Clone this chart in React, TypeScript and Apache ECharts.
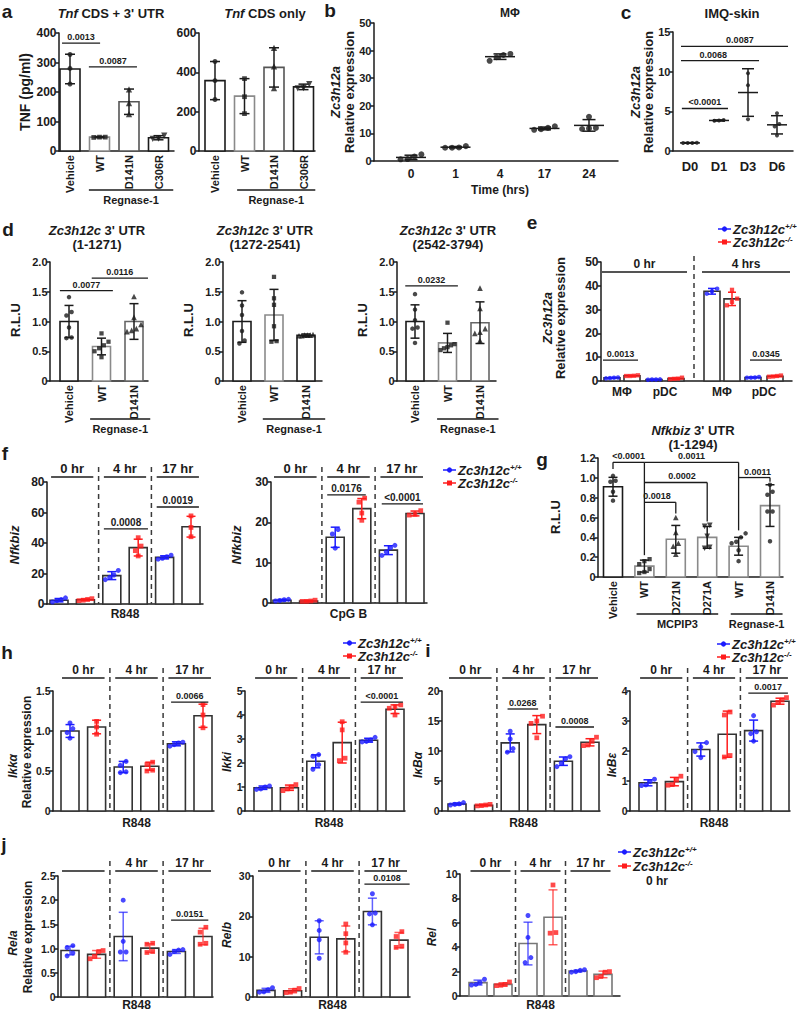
import React, { useEffect, useRef } from "react";
import * as echarts from "echarts";

const FF = "'Liberation Sans', Arial, Helvetica, sans-serif";
const INK = "#1b1b1b";
const GREY = "#8a8a8a";
const BLUE = "#1c1cff";
const RED = "#ff1c1c";
const INV = "path://M0,0L10,0L5,9Z";

// ---------- a ----------
const aCats = ["Vehicle", "WT", "D141N", "C306R"];
const a1Mean = [278, 47, 167, 45];
const a1Sd = [50, 2, 43, 7];
const a1Pts = [[327, 280, 227], [47, 46, 47], [209, 162, 125], [52, 42, 41]];
const a2Mean = [358, 279, 425, 326];
const a2Sd = [97, 89, 100, 14];
const a2Pts = [[455, 358, 262], [368, 276, 190], [525, 430, 320], [340, 320, 318]];
// ---------- b ----------
const bTimes = ["0", "1", "4", "17", "24"];
const bMean = [1.3, 5.0, 37.8, 11.8, 12.9];
const bSd = [0.8, 0.25, 1.0, 0.5, 2.1];
const bPts = [[1.6, 0.6, 0.7, 2.4], [4.8, 4.8, 4.9, 5.4], [38.4, 38.8, 36.3, 37.6], [12.0, 11.3, 11.5, 12.6], [16.0, 12.0, 11.6, 11.8]];
// ---------- c ----------
const cDays = ["D0", "D1", "D3", "D6"];
const cMean = [1.02, 3.85, 7.37, 3.3];
const cSd = [0.04, 0.07, 3.0, 1.15];
const cPts = [[1.02, 1.0, 1.02, 1.03], [3.9, 3.8, 3.85], [9.8, 8.3, 4.0], [4.75, 3.4, 3.1, 1.95]];
// ---------- d ----------
const dCats = ["Vehicle", "WT", "D141N"];
const d1Mean = [1.0, 0.58, 1.0];
const d1Sd = [0.27, 0.14, 0.3];
const d1Pts = [[1.41, 1.16, 1.1, 0.9, 0.73, 0.72], [0.8, 0.66, 0.6, 0.55, 0.5, 0.4], [1.42, 1.07, 0.95, 0.88, 0.85, 0.83]];
const d2Mean = [1.0, 1.11, 0.77];
const d2Sd = [0.35, 0.43, 0.02];
const d2Pts = [[1.49, 1.27, 1.11, 0.84, 0.68, 0.63], [1.75, 1.39, 1.28, 0.92, 0.67, 0.66], [0.78, 0.77, 0.77, 0.76, 0.77, 0.76]];
const d3Mean = [1.0, 0.64, 0.98];
const d3Sd = [0.28, 0.16, 0.35];
const d3Pts = [[1.46, 1.2, 1.02, 0.9, 0.88, 0.64], [0.98, 0.62, 0.6, 0.57, 0.55, 0.52], [1.56, 1.22, 0.88, 0.82, 0.8, 0.68]];
// ---------- e ----------
const eCells = ["MΦ", "pDC", "MΦ", "pDC"];
const eMean = [1.3, 2.2, 0.6, 1.0, 37.7, 34.5, 1.5, 2.0];
const eSd = [0.2, 0.15, 0.1, 0.25, 1.2, 2.8, 0.15, 0.2];
const ePts = [[1.5, 1.4, 1.2, 1.1], [2.4, 2.2, 2.1, 2.1], [0.7, 0.6, 0.5, 0.6], [1.4, 1.0, 0.8, 0.9], [38.8, 37.7, 36.7], [38.3, 34.6, 33.2, 31.8], [1.7, 1.5, 1.4, 1.4], [2.3, 2.1, 1.9, 1.8]];
// ---------- f ----------
const hrs = ["0 hr", "4 hr", "17 hr"];
const f1Mean = [2.5, 2.8, 18.6, 37.0, 30.6, 50.7];
const f1Sd = [1.1, 0.5, 2.6, 5.5, 1.0, 6.8];
const f1Pts = [[4.0, 2.9, 2.2, 1.3], [3.5, 3.0, 2.5, 2.2], [22.0, 19.0, 17.5, 16.0], [43.5, 38.0, 35.0, 31.5], [32.0, 31.0, 30.0, 29.4], [57.8, 50.2, 44.1]];
const f2Mean = [0.7, 0.5, 16.3, 23.4, 13.1, 22.2];
const f2Sd = [0.2, 0.15, 2.5, 2.5, 1.1, 0.6];
const f2Pts = [[0.9, 0.8, 0.6, 0.5], [0.7, 0.5, 0.4, 0.4], [18.2, 17.1, 13.6], [26.0, 25.0, 22.3, 20.5], [14.3, 13.7, 12.7, 11.8], [22.9, 22.0, 21.8]];
// ---------- g ----------
const gCats = ["Vehicle", "WT", "D271N", "D271A", "WT", "D141N"];
const gMean = [0.91, 0.11, 0.38, 0.4, 0.31, 0.72];
const gSd = [0.095, 0.06, 0.14, 0.11, 0.09, 0.21];
const gPts = [[1.02, 0.97, 0.96, 0.86, 0.77], [0.18, 0.16, 0.13, 0.08, 0.05, 0.04], [0.6, 0.45, 0.34, 0.31, 0.23], [0.52, 0.51, 0.41, 0.3, 0.29], [0.44, 0.4, 0.355, 0.34, 0.27, 0.16], [0.93, 0.86, 0.83, 0.66, 0.66, 0.36]];
// ---------- h ----------
const h1Mean = [1.0, 1.05, 0.55, 0.56, 0.84, 1.19];
const h1Sd = [0.08, 0.085, 0.07, 0.05, 0.025, 0.145];
const h1Pts = [[1.1, 1.03, 0.98, 0.91], [1.12, 1.05, 0.96], [0.62, 0.57, 0.49, 0.48], [0.61, 0.58, 0.51, 0.5], [0.86, 0.85, 0.83, 0.81], [1.33, 1.2, 1.04]];
const h2Mean = [0.97, 0.97, 2.07, 2.85, 2.95, 4.24];
const h2Sd = [0.07, 0.11, 0.27, 0.85, 0.08, 0.18];
const h2Pts = [[1.04, 1.0, 0.92, 0.9], [1.1, 1.0, 0.92, 0.85], [2.35, 2.28, 1.93, 1.74], [3.72, 3.38, 2.2, 2.1], [3.07, 2.96, 2.9, 2.88], [4.42, 4.35, 4.28, 4.0]];
// ---------- i ----------
const i1Mean = [1.17, 0.96, 11.35, 14.4, 8.3, 11.45];
const i1Sd = [0.17, 0.11, 1.5, 1.5, 0.7, 0.6];
const i1Pts = [[1.4, 1.2, 1.1, 1.0], [1.1, 1.0, 0.9, 0.85], [13.3, 12.0, 10.4, 9.8], [15.8, 15.0, 14.6, 12.2], [9.05, 8.7, 8.0, 7.4], [12.3, 11.6, 11.0, 10.9]];
const i2Mean = [0.94, 0.98, 2.05, 2.56, 2.68, 3.66];
const i2Sd = [0.1, 0.14, 0.22, 0.77, 0.35, 0.1];
const i2Pts = [[1.06, 0.98, 0.87, 0.85], [1.16, 1.03, 0.88, 0.86], [2.28, 2.14, 1.98, 1.78], [3.3, 3.2, 1.85, 1.8], [3.18, 2.64, 2.58, 2.33], [3.78, 3.7, 3.62, 3.53]];
// ---------- j ----------
const j1Mean = [0.96, 0.88, 1.25, 1.01, 0.94, 1.25];
const j1Sd = [0.09, 0.08, 0.5, 0.09, 0.04, 0.17];
const j1Pts = [[1.06, 1.02, 0.91, 0.85], [0.96, 0.94, 0.84, 0.79], [2.0, 1.15, 0.93, 0.93], [1.11, 1.09, 0.94, 0.92], [0.98, 0.97, 0.94, 0.88], [1.44, 1.34, 1.11, 1.09]];
const j2Mean = [1.65, 1.55, 14.8, 14.4, 21.2, 14.1];
const j2Sd = [0.5, 0.5, 4.1, 3.2, 3.3, 1.9];
const j2Pts = [[2.3, 1.8, 1.3, 1.2], [2.1, 1.7, 1.2, 1.1], [18.9, 16.5, 14.2, 9.6], [18.1, 15.7, 13.4, 11.1], [25.6, 20.8, 20.6, 17.9], [16.2, 15.0, 12.6, 12.3]];
const j3Mean = [1.1, 0.95, 4.3, 6.45, 2.05, 1.77];
const j3Sd = [0.2, 0.13, 1.75, 2.25, 0.08, 0.27];
const j3Pts = [[1.37, 1.1, 0.95, 0.9], [1.15, 0.95, 0.88, 0.85], [6.6, 4.8, 3.15, 2.74], [9.1, 5.2, 5.15], [2.15, 2.1, 2.0, 1.95], [2.0, 1.95, 1.6, 1.5]];

// ---------- helpers ----------
const br = (x1: number, x2: number, v: number, label: string, lx?: number, legs?: number[][]) => ({ t: "br", x1, x2, v, label, lx, legs });
const cat = (x: number, y: number, label: string, rot = false, fs = 11) => ({ t: "cat", x, y, label, rot, fs });
const grp = (x1: number, x2: number, y: number, label: string) => ({ t: "grp", x1, x2, y, label });
const hdr = (x1: number, x2: number, y: number, label: string, fs = 12) => ({ t: "hdr", x1, x2, y, label, fs });
const dash = (x: number, y: number) => ({ t: "dash", x, y });

const pairColors = [BLUE, RED, BLUE, RED, BLUE, RED];
const pairSyms = ["circle", "rect", "circle", "rect", "circle", "rect"];

function pair(g: any, mean: number[], sd: number[], pts: number[][], o: any) {
  const marks: any[] = [];
  const H = o.hdr || hrs;
  [[-0.3, 1.3], [1.7, 3.3], [3.7, 5.3]].forEach(([a, b], k) => marks.push(hdr(a, b, o.hdrY, H[k], o.hfs || 12)));
  [1.5, 3.5].forEach((x) => marks.push(dash(x, o.hdrY - 10)));
  (o.brs || []).forEach((b: any) => marks.push(b));
  marks.push(cat(2.5, o.xtY, o.xt, false, 12));
  return {
    ...g, yMax: o.yMax, yInt: o.yInt, dec: o.dec || 0, fs: o.fs || 10.5,
    slots: [0, 1, 2, 3, 4, 5], mean, sd, pts, colors: pairColors, symbols: pairSyms,
    edges: Array(6).fill(o.edge || "#333"), barW: 18, capW: 9, dot: 5, spread: 13,
    errOp: o.errOp || 1, sigFs: o.sigFs || 9, marks,
  };
}

function jitter(vals: number[], ppu: number, gap: number, maxSpread: number) {
  const order = vals.map((_, i) => i).sort((a, b) => vals[a] - vals[b]);
  const off = new Array(vals.length).fill(0);
  let s = 0;
  while (s < order.length) {
    let e = s + 1;
    while (e < order.length && (vals[order[e]] - vals[order[e - 1]]) * ppu < gap * 0.9) e++;
    const k = e - s;
    const g = k > 1 ? Math.min(gap, maxSpread / (k - 1)) : 0;
    for (let j = 0; j < k; j++) off[order[s + j]] = (j - (k - 1) / 2) * g;
    s = e;
  }
  return off;
}

function buildPanel(cfg: any, p: number, out: any) {
  const xmin = (cfg.left - cfg.c0) / cfg.step;
  const xmax = (cfg.right - cfg.c0) / cfg.step;
  out.grid.push({ left: cfg.left, top: cfg.top, width: cfg.right - cfg.left, height: cfg.bottom - cfg.top });
  out.xAxis.push({
    gridIndex: p, type: "value", min: xmin, max: xmax,
    axisLine: { show: true, onZero: false, lineStyle: { color: INK, width: 1.5 } },
    axisTick: { show: false }, axisLabel: { show: false }, splitLine: { show: false },
  });
  out.yAxis.push({
    gridIndex: p, type: "value", min: 0, max: cfg.yMax, interval: cfg.yInt,
    axisLine: { show: true, onZero: false, lineStyle: { color: INK, width: 1.5 } },
    axisTick: { show: true, length: 3.5, lineStyle: { color: INK, width: 1.5 } },
    splitLine: { show: false },
    axisLabel: {
      fontSize: cfg.fs, fontWeight: "bold", fontFamily: FF, color: INK, margin: 2.5,
      formatter: (v: number) => (Math.abs(v) < 1e-9 ? "0" : v.toFixed(cfg.dec)),
    },
  });
  const errOp = cfg.errOp || 1;
  // bars, mean lines and error bars
  out.series.push({
    type: "custom", xAxisIndex: p, yAxisIndex: p, silent: true, clip: false, z: 2,
    data: cfg.slots.map((s: number, i: number) => [s, cfg.mean[i]]),
    renderItem: (params: any, api: any) => {
      const i = params.dataIndex;
      const x = cfg.slots[i], m = cfg.mean[i], s = cfg.sd[i];
      const c = api.coord([x, m]);
      const cx = c[0], cy = c[1];
      const y0 = api.coord([x, 0])[1];
      const yh = api.coord([x, m + s])[1];
      const yl = api.coord([x, Math.max(0, m - s)])[1];
      const col = cfg.colors[i];
      const ch: any[] = [];
      if (cfg.barW) {
        ch.push({ type: "rect", shape: { x: cx - cfg.barW / 2, y: cy, width: cfg.barW, height: y0 - cy }, style: { fill: "#fff", stroke: cfg.edges[i], lineWidth: 1.6 } });
      }
      if (cfg.meanW) {
        ch.push({ type: "line", shape: { x1: cx - cfg.meanW / 2, y1: cy, x2: cx + cfg.meanW / 2, y2: cy }, style: { stroke: col, lineWidth: 1.5 } });
      }
      const cw = cfg.capW / 2;
      const es = { stroke: col, lineWidth: 1.5, opacity: errOp };
      ch.push({ type: "line", shape: { x1: cx, y1: yh, x2: cx, y2: yl }, style: es });
      ch.push({ type: "line", shape: { x1: cx - cw, y1: yh, x2: cx + cw, y2: yh }, style: es });
      ch.push({ type: "line", shape: { x1: cx - cw, y1: yl, x2: cx + cw, y2: yl }, style: es });
      return { type: "group", children: ch };
    },
  });
  // points
  const ppu = (cfg.bottom - cfg.top) / cfg.yMax;
  const data: any[] = [];
  cfg.pts.forEach((arr: number[], i: number) => {
    const off = jitter(arr, ppu, cfg.dot * 1.15, cfg.spread);
    const sym = cfg.symbols[i];
    const size = sym === "triangle" || sym === INV ? cfg.dot * 1.25 : sym === "rect" ? cfg.dot * 0.95 : cfg.dot;
    arr.forEach((v, j) => data.push({ value: [cfg.slots[i], v], symbol: sym, symbolSize: size, symbolOffset: [off[j], 0], itemStyle: { color: cfg.colors[i] } }));
  });
  out.series.push({ type: "scatter", xAxisIndex: p, yAxisIndex: p, silent: true, z: 3, data });
  // annotations
  const marks = cfg.marks || [];
  out.series.push({
    type: "custom", xAxisIndex: p, yAxisIndex: p, silent: true, clip: false, z: 4,
    data: marks.map(() => [cfg.slots[0], 0]),
    renderItem: (params: any, api: any) => {
      const m = marks[params.dataIndex];
      const X = (x: number) => api.coord([x, 0])[0];
      const Y = (v: number) => api.coord([cfg.slots[0], v])[1];
      const ln = (x1: number, y1: number, x2: number, y2: number, st: any = {}) => ({ type: "line", shape: { x1, y1, x2, y2 }, style: { stroke: INK, lineWidth: 1.3, ...st } });
      const tx = (x: number, y: number, text: string, o: any = {}) => ({
        type: "text", x, y, rotation: o.rot ? Math.PI / 2 : 0,
        style: { text, fill: INK, fontFamily: FF, fontWeight: "bold", fontSize: o.fs || 11, align: o.align || "center", verticalAlign: o.va || "middle" },
      });
      if (m.t === "br") {
        const y = Y(m.v);
        const ch: any[] = [ln(X(m.x1), y, X(m.x2), y)];
        (m.legs || []).forEach((lg: number[]) => ch.push(ln(X(lg[0]), y, X(lg[0]), Y(lg[1]))));
        const cx = m.lx !== undefined ? X(m.lx) : (X(m.x1) + X(m.x2)) / 2;
        ch.push(tx(cx, y - 1.5, m.label, { fs: cfg.sigFs || 9, va: "bottom" }));
        return { type: "group", children: ch };
      }
      if (m.t === "hdr") {
        return { type: "group", children: [ln(X(m.x1), m.y, X(m.x2), m.y, { lineWidth: 1.5 }), tx((X(m.x1) + X(m.x2)) / 2, m.y - 2, m.label, { fs: m.fs, va: "bottom" })] };
      }
      if (m.t === "dash") {
        return ln(X(m.x), m.y, X(m.x), Y(0), { lineWidth: 1.5, lineDash: [5, 4], stroke: "#3a3a3a" });
      }
      if (m.t === "cat") {
        return m.rot
          ? tx(X(m.x), m.y, m.label, { rot: true, align: "right", va: "middle", fs: m.fs })
          : tx(X(m.x), m.y, m.label, { va: "top", fs: m.fs });
      }
      if (m.t === "grp") {
        return { type: "group", children: [ln(X(m.x1), m.y, X(m.x2), m.y), tx((X(m.x1) + X(m.x2)) / 2, m.y + 4, m.label, { va: "top", fs: 11 })] };
      }
      return { type: "group", children: [] };
    },
  });
}

// ---------- panel configs ----------
function panels() {
  const blk = (n: number) => Array(n).fill(INK);
  const aSyms = ["circle", "rect", "triangle", INV];
  const dSyms = ["circle", "rect", "triangle"];
  const eSlots = [0, 1, 2.1, 3.2, 5, 6, 7.05, 8.15];
  const ePair = [BLUE, RED, BLUE, RED, BLUE, RED, BLUE, RED];
  const eSym = ["circle", "rect", "circle", "rect", "circle", "rect", "circle", "rect"];
  const A1 = {
    left: 59, right: 174, top: 33, bottom: 151, c0: 70, step: 29.5, yMax: 400, yInt: 100, dec: 0, fs: 12,
    slots: [0, 1, 2, 3], mean: a1Mean, sd: a1Sd, pts: a1Pts, colors: blk(4), symbols: aSyms,
    edges: [INK, GREY, "#555", INK], barW: 20, capW: 10, dot: 5, spread: 14, sigFs: 9,
    marks: [br(-0.27, 1.02, 366, "0.0013"), br(0.64, 2.27, 285, "0.0087"), ...aCats.map((l, i) => cat(i, 155, l, true, 11)), grp(0.64, 3.5, 190, "Regnase-1")],
  };
  const A2 = {
    left: 199, right: 315, top: 33, bottom: 151, c0: 215, step: 29.5, yMax: 600, yInt: 200, dec: 0, fs: 12,
    slots: [0, 1, 2, 3], mean: a2Mean, sd: a2Sd, pts: a2Pts, colors: blk(4), symbols: aSyms,
    edges: [INK, GREY, "#555", INK], barW: 20, capW: 10, dot: 5, spread: 14,
    marks: [...aCats.map((l, i) => cat(i, 155, l, true, 11)), grp(0.75, 3.4, 190, "Regnase-1")],
  };
  const B = {
    left: 374, right: 618, top: 23, bottom: 161, c0: 411, step: 44.5, yMax: 50, yInt: 10, dec: 0, fs: 11,
    slots: [0, 1, 2, 3, 4], mean: bMean, sd: bSd, pts: bPts, colors: blk(5), symbols: Array(5).fill("circle"),
    meanW: 30, capW: 13, dot: 6, spread: 24,
    marks: bTimes.map((l, i) => cat(i, 168, l, false, 12)),
  };
  const C = {
    left: 673, right: 793, top: 32, bottom: 151, c0: 690, step: 29, yMax: 15, yInt: 5, dec: 0, fs: 11,
    slots: [0, 1, 2, 3], mean: cMean, sd: cSd, pts: cPts, colors: blk(4), symbols: Array(4).fill("circle"),
    meanW: 20, capW: 12, dot: 4, spread: 14, sigFs: 9,
    marks: [br(-0.28, 1.31, 5.36, "<0.0001"), br(-0.31, 2.38, 11.4, "0.0068", 0.8), br(-0.31, 3.38, 13.2, "0.0087", 1.72), ...cDays.map((l, i) => cat(i, 160, l, false, 13))],
  };
  const dBase = { top: 262, bottom: 381, yMax: 2, yInt: 0.5, dec: 1, fs: 11, slots: [0, 1, 2], colors: blk(3), symbols: dSyms, barW: 18, capW: 9, dot: 4.5, spread: 14, sigFs: 9 };
  const dLab = dCats.map((l, i) => cat(i, 385, l, true, 11));
  const D1 = { ...dBase, left: 50, right: 148, c0: 69, step: 32.5, mean: d1Mean, sd: d1Sd, pts: d1Pts, edges: [INK, GREY, "#666"],
    marks: [br(-0.28, 1.35, 1.52, "0.0077"), br(0.7, 2.43, 1.73, "0.0116"), ...dLab, grp(0.65, 2.5, 419, "Regnase-1")] };
  const D2 = { ...dBase, left: 223, right: 322, c0: 242, step: 32, mean: d2Mean, sd: d2Sd, pts: d2Pts, edges: [INK, GREY, INK],
    marks: [...dLab, grp(0.65, 2.6, 419, "Regnase-1")] };
  const D3 = { ...dBase, left: 397, right: 496, c0: 415, step: 32.5, mean: d3Mean, sd: d3Sd, pts: d3Pts, edges: [INK, GREY, "#666"],
    marks: [br(-0.3, 1.32, 1.6, "0.0232"), ...dLab, grp(0.68, 2.57, 419, "Regnase-1")] };
  const eLabX = [0.5, 2.65, 5.5, 7.6];
  const E = {
    left: 601, right: 792, top: 262, bottom: 381, c0: 612, step: 20, yMax: 50, yInt: 10, dec: 0, fs: 12,
    slots: eSlots, mean: eMean, sd: eSd, pts: ePts, colors: ePair, symbols: eSym, edges: Array(8).fill("#333"),
    barW: 16, capW: 8, dot: 4.5, spread: 12, sigFs: 9,
    marks: [br(-0.45, 1.3, 8.8, "0.0013"), br(6.9, 8.5, 8.8, "0.0345"), hdr(-0.5, 3.75, 272, "0 hr", 12), hdr(4.5, 8.9, 272, "4 hrs", 12), dash(4.1, 256),
      ...eCells.map((l, i) => cat(eLabX[i], 386, l, false, 12))],
  };
  const F1 = pair({ left: 47, right: 203, top: 482, bottom: 604, c0: 59, step: 26.4 }, f1Mean, f1Sd, f1Pts,
    { yMax: 80, yInt: 20, fs: 12, hdrY: 477, hfs: 13, sigFs: 10, brs: [br(1.7, 3.37, 49.2, "0.0008"), br(3.7, 5.3, 63.6, "0.0019")], xt: "R848", xtY: 608 });
  const F2 = pair({ left: 271, right: 427, top: 482, bottom: 603, c0: 282, step: 26.6 }, f2Mean, f2Sd, f2Pts,
    { yMax: 30, yInt: 10, fs: 12, hdrY: 477, hfs: 13, sigFs: 10, brs: [br(1.7, 3.15, 26.8, "0.0176"), br(3.75, 5.3, 24.6, "<0.0001")], xt: "CpG B", xtY: 608 });
  const G = {
    left: 598, right: 783, top: 458, bottom: 577, c0: 613, step: 31.4, yMax: 1.2, yInt: 0.2, dec: 1, fs: 11,
    slots: [0, 1, 2, 3, 4, 5], mean: gMean, sd: gSd, pts: gPts, colors: blk(6), symbols: ["circle", "rect", "triangle", INV, "circle", "circle"],
    edges: [INK, GREY, GREY, GREY, GREY, GREY], barW: 19, capW: 9, dot: 4.5, spread: 14, sigFs: 9,
    marks: [
      br(0, 1, 1.156, "<0.0001", 0.5, [[0, 1.09]]),
      br(1, 4, 1.156, "0.0011", 2.5, [[1, 0.22], [4, 0.47]]),
      br(1, 3, 0.953, "0.0002", 2.2, [[3, 0.56]]),
      br(1, 2, 0.753, "0.0018", 1.4, [[2, 0.64]]),
      br(4, 5, 1.003, "0.0011", 4.6, [[5, 0.96]]),
      ...gCats.map((l, i) => cat(i, 581, l, true, 11)),
      grp(0.75, 3.35, 614, "MCPIP3"), grp(3.75, 5.4, 614, "Regnase-1"),
    ],
  };
  const H1 = pair({ left: 53, right: 214, top: 691, bottom: 811, c0: 70, step: 26.6 }, h1Mean, h1Sd, h1Pts,
    { yMax: 1.5, yInt: 0.5, dec: 1, hdrY: 678, brs: [br(3.8, 5.2, 1.36, "0.0066")], xt: "R848", xtY: 817 });
  const H2 = pair({ left: 245, right: 405, top: 691, bottom: 811, c0: 263, step: 26.4 }, h2Mean, h2Sd, h2Pts,
    { yMax: 5, yInt: 1, hdrY: 678, brs: [br(3.7, 5.3, 4.54, "<0.0001")], xt: "R848", xtY: 817 });
  const I1 = pair({ left: 442, right: 600, top: 691, bottom: 811, c0: 457, step: 26.6 }, i1Mean, i1Sd, i1Pts,
    { yMax: 20, yInt: 5, hdrY: 678, brs: [br(1.9, 3.05, 17, "0.0268"), br(3.7, 5.15, 14, "0.0008")], xt: "R848", xtY: 817 });
  const I2 = pair({ left: 630, right: 790, top: 691, bottom: 811, c0: 648, step: 26.4 }, i2Mean, i2Sd, i2Pts,
    { yMax: 4, yInt: 1, hdrY: 678, brs: [br(3.8, 5.3, 3.93, "0.0017")], xt: "R848", xtY: 817 });
  const J1 = pair({ left: 58, right: 213, top: 876, bottom: 997, c0: 70, step: 26.6 }, j1Mean, j1Sd, j1Pts,
    { yMax: 2.5, yInt: 0.5, dec: 1, hdrY: 871, hdr: ["", "4 hr", "17 hr"], brs: [br(3.8, 5.2, 1.59, "0.0151")], xt: "R848", xtY: 999, errOp: 0.7 });
  const J2 = pair({ left: 253, right: 410, top: 876, bottom: 997, c0: 266, step: 26.6 }, j2Mean, j2Sd, j2Pts,
    { yMax: 30, yInt: 10, hdrY: 871, brs: [br(3.7, 5.4, 28, "0.0108")], xt: "R848", xtY: 999, errOp: 0.7 });
  const J3 = pair({ left: 460, right: 620, top: 874, bottom: 996, c0: 478, step: 25 }, j3Mean, j3Sd, j3Pts,
    { yMax: 10, yInt: 2, hdrY: 871, brs: [], xt: "R848", xtY: 999, errOp: 0.7, edge: "#777" });
  return [A1, A2, B, C, D1, D2, D3, E, F1, F2, G, H1, H2, I1, I2, J1, J2, J3];
}

// ---------- free text ----------
function gt(x: number, y: number, text: string, o: any = {}) {
  const size = o.size || 12;
  return {
    type: "text", x, y, rotation: o.rot ? Math.PI / 2 : 0, silent: true, z: 10,
    style: {
      text, fill: INK, fontFamily: FF, fontSize: size, fontWeight: "bold", fontStyle: o.italic ? "italic" : "normal",
      align: o.align || "center", verticalAlign: "middle",
      rich: {
        i: { fontFamily: FF, fontSize: size, fontWeight: "bold", fontStyle: "italic", fill: INK, color: INK },
        n: { fontFamily: FF, fontSize: size, fontWeight: "bold", fill: INK, color: INK },
        s: { fontFamily: FF, fontSize: Math.round(size * 0.58), fontWeight: "bold", fontStyle: "italic", fill: INK, color: INK, verticalAlign: "top", lineHeight: size },
      },
    },
  };
}

function legend(x: number, y: number, color: string, sq: boolean, sup: string) {
  const els: any[] = [
    { type: "line", silent: true, z: 10, shape: { x1: x, y1: y, x2: x + 13, y2: y }, style: { stroke: color, lineWidth: 1.5 } },
    sq
      ? { type: "rect", silent: true, z: 10, shape: { x: x + 4, y: y - 2.5, width: 5, height: 5 }, style: { fill: color } }
      : { type: "circle", silent: true, z: 10, shape: { cx: x + 6.5, cy: y, r: 2.6 }, style: { fill: color } },
    gt(x + 15, y, "{i|Zc3h12c}{s|" + sup + "}", { size: 13, align: "left" }),
  ];
  return els;
}

function graphics() {
  const g: any[] = [];
  // panel letters
  [["a", 7, 11], ["b", 330, 10], ["c", 626, 12], ["d", 8, 229], ["e", 532, 222], ["f", 5, 453], ["g", 542, 459], ["h", 7, 652], ["i", 428, 650], ["j", 4, 844]].forEach(
    ([l, x, y]: any) => g.push(gt(x, y, l, { size: 19 })));
  // titles
  g.push(gt(111, 13, "{i|Tnf} CDS + 3' UTR", { size: 13 }));
  g.push(gt(265, 13, "{i|Tnf} CDS only", { size: 13 }));
  g.push(gt(510, 13, "MΦ", { size: 12 }));
  g.push(gt(732, 13, "IMQ-skin", { size: 13 }));
  [[97, "(1-1271)"], [265, "(1272-2541)"], [448, "(2542-3794)"]].forEach(([x, s]: any) => {
    g.push(gt(x, 230, "{i|Zc3h12c} 3' UTR", { size: 13 }));
    g.push(gt(x, 244, s, { size: 13 }));
  });
  g.push(gt(693, 430, "{i|Nfkbiz} 3' UTR", { size: 13 }));
  g.push(gt(693, 444, "(1-1294)", { size: 13 }));
  g.push(gt(500, 190, "Time (hrs)", { size: 12 }));
  // y axis names
  const R = (x: number, y: number, s: string, size: number, it = false) => g.push(gt(x, y, s, { rot: true, size, italic: it }));
  R(25, 92, "TNF (pg/ml)", 14);
  R(335, 92, "Zc3h12a", 13, true); R(349, 92, "Relative expression", 13);
  R(635, 92, "Zc3h12a", 13, true); R(648, 92, "Relative expression", 13);
  R(15, 320, "R.L.U", 13); R(188, 320, "R.L.U", 13); R(362, 320, "R.L.U", 13);
  R(547, 318, "Zc3h12a", 13, true); R(560, 318, "Relative expression", 13);
  R(14, 545, "Nfkbiz", 13, true); R(236, 545, "Nfkbiz", 13, true);
  R(555, 517, "R.L.U", 13);
  R(13, 766, "Ikkα", 12, true); R(27, 752, "Relative expression", 12);
  R(227, 762, "Ikki", 12, true);
  R(418, 765, "IκBα", 12, true); R(612, 765, "IκBε", 12, true);
  R(13, 943, "Rela", 12, true); R(28, 937, "Relative expression", 12);
  R(227, 935, "Relb", 12, true); R(432, 937, "Rel", 12, true);
  // legends
  const leg = (x: number, y1: number, y2: number) => {
    g.push(...legend(x, y1, BLUE, false, "+/+"));
    g.push(...legend(x, y2, RED, true, "-/-"));
  };
  leg(718, 229, 242);
  leg(443, 470, 483);
  leg(343, 643, 656);
  leg(717, 644, 657);
  leg(618, 852, 866);
  g.push(gt(657, 881, "0 hr", { size: 12 }));
  return g;
}

function buildOption() {
  const out: any = { grid: [], xAxis: [], yAxis: [], series: [] };
  panels().forEach((c, p) => buildPanel(c, p, out));
  return { animation: false, backgroundColor: "#ffffff", ...out, graphic: { elements: graphics() } };
}

export default function App() {
  const ref = useRef<HTMLDivElement>(null);
  useEffect(() => {
    const chart = echarts.init(ref.current as HTMLDivElement, null, { renderer: "svg" });
    chart.setOption(buildOption());
    return () => chart.dispose();
  }, []);
  return <div ref={ref} style={{ position: "absolute", left: 0, top: 0, width: 797, height: 1013, background: "#fff" }} />;
}
